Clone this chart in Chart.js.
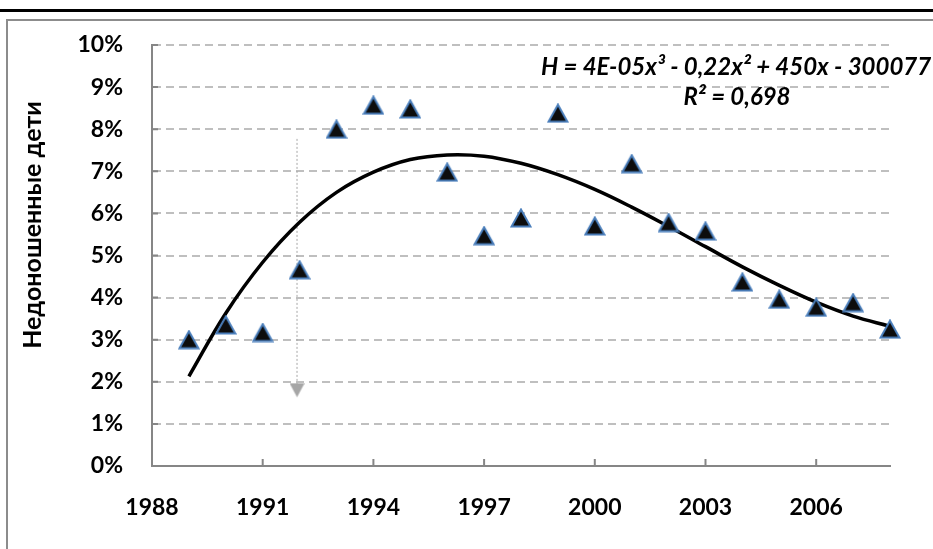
<!DOCTYPE html>
<html>
<head>
<meta charset="utf-8">
<script src="https://cdn.jsdelivr.net/npm/chart.js@4.4.0/dist/chart.umd.min.js"></script>
<style>
  body { margin: 0; background: #fff; }
  canvas { display: block; }
</style>
</head>
<body>
<canvas id="graph" width="933" height="549"></canvas>
<script>
// values (percent)
const years = [1989, 1990, 1991, 1992, 1993, 1994, 1995, 1996, 1997, 1998,
  1999, 2000, 2001, 2002, 2003, 2004, 2005, 2006, 2007, 2008];
const premature = [3.0, 3.35, 3.17, 4.66, 8.0, 8.57, 8.48, 6.98, 5.47, 5.89,
  8.38, 5.7, 7.18, 5.78, 5.58, 4.37, 3.96, 3.77, 3.88, 3.25];
const trendValues = [2.13, 3.63, 4.84, 5.79, 6.5, 6.98, 7.28, 7.39, 7.36, 7.19,
  6.92, 6.57, 6.15, 5.69, 5.21, 4.73, 4.29, 3.89, 3.56, 3.32];
const arrowX = [1991.93, 1991.93];
const arrowY = [7.77, 1.8];
const xTicks = [1988, 1991, 1994, 1997, 2000, 2003, 2006];
const axisTitle = "Недоношенные дети";
const equation = "H = 4E-05x³ - 0,22x² + 450x - 300077";
const rSquared = "R² = 0,698";

const FONT = 'Lato, "Open Sans", sans-serif';
const axisGrey = "#868686";

function triangleMarker() {
  const c = document.createElement("canvas");
  c.width = 22;
  c.height = 20;
  const g = c.getContext("2d");
  g.beginPath();
  g.moveTo(11, 1.5);
  g.lineTo(20.5, 18.5);
  g.lineTo(1.5, 18.5);
  g.closePath();
  g.fillStyle = "#0d0d0d";
  g.fill();
  g.lineWidth = 2;
  g.strokeStyle = "#4a7ebb";
  g.stroke();
  return c;
}

function arrowHead() {
  const c = document.createElement("canvas");
  c.width = 15;
  c.height = 15;
  const g = c.getContext("2d");
  g.beginPath();
  g.moveTo(0, 0.5);
  g.lineTo(15, 0.5);
  g.lineTo(7.5, 14.5);
  g.closePath();
  g.fillStyle = "#a6a6a6";
  g.fill();
  return c;
}

const frame = {
  id: "frame",
  beforeDraw(chart) {
    const ctx = chart.ctx;
    ctx.save();
    ctx.fillStyle = "#fff";
    ctx.fillRect(0, 0, chart.width, chart.height);
    ctx.fillStyle = "#000";
    ctx.fillRect(0, 9, chart.width, 3);
    ctx.strokeStyle = "#8c8c8c";
    ctx.lineWidth = 2;
    ctx.beginPath();
    ctx.moveTo(7, chart.height);
    ctx.lineTo(7, 20);
    ctx.lineTo(chart.width, 20);
    ctx.stroke();
    ctx.restore();
  },
};

// excel style tick marks pointing into the plot
const innerTicks = {
  id: "innerTicks",
  afterDraw(chart) {
    const { ctx, chartArea, scales } = chart;
    ctx.save();
    ctx.strokeStyle = axisGrey;
    ctx.lineWidth = 2;
    ctx.beginPath();
    scales.y.ticks.forEach((t) => {
      const py = scales.y.getPixelForValue(t.value);
      ctx.moveTo(chartArea.left, py);
      ctx.lineTo(chartArea.left + 6, py);
    });
    scales.x.ticks.forEach((t) => {
      const px = scales.x.getPixelForValue(t.value);
      ctx.moveTo(px, chartArea.bottom);
      ctx.lineTo(px, chartArea.bottom - 7);
    });
    ctx.stroke();
    ctx.restore();
  },
};

const labels = {
  id: "labels",
  afterDraw(chart) {
    const ctx = chart.ctx;
    ctx.save();
    ctx.fillStyle = "#000";
    ctx.font = "bold 25px " + FONT;
    ctx.translate(33, 225);
    ctx.rotate(-Math.PI / 2);
    ctx.textAlign = "center";
    ctx.textBaseline = "middle";
    ctx.fillText(axisTitle, 0, 0);
    ctx.restore();

    ctx.save();
    ctx.fillStyle = "#000";
    ctx.font = "italic bold 24px " + FONT;
    ctx.textBaseline = "alphabetic";
    ctx.textAlign = "left";
    ctx.fillText(equation, 541, 75);
    ctx.textAlign = "center";
    ctx.fillText(rSquared, 737, 105);
    ctx.restore();
  },
};

const points = years.map((yr, i) => ({ x: yr, y: premature[i] }));
const trend = years.map((yr, i) => ({ x: yr, y: trendValues[i] }));
const arrow = arrowX.map((v, i) => ({ x: v, y: arrowY[i] }));

const tickFont = { family: FONT, size: 23, weight: "bold" };

const config = {
  type: "scatter",
  data: {
    datasets: [
      {
        label: "premature",
        data: points,
        pointStyle: triangleMarker(),
        pointRadius: 10,
        pointHoverRadius: 10,
        clip: false,
        order: 0,
      },
      {
        label: "trend",
        data: trend,
        showLine: true,
        borderColor: "#000",
        borderWidth: 3.5,
        tension: 0.4,
        pointRadius: 0,
        order: 1,
      },
      {
        label: "arrow",
        data: arrow,
        showLine: true,
        borderColor: "#a6a6a6",
        borderWidth: 1,
        borderDash: [2, 2],
        pointStyle: [false, arrowHead()],
        pointRadius: [0, 8],
        order: 2,
      },
    ],
  },
  options: {
    responsive: false,
    animation: false,
    events: [],
    layout: { padding: { left: 0, right: 43, top: 45, bottom: 0 } },
    plugins: {
      legend: { display: false },
      tooltip: { enabled: false },
    },
    scales: {
      x: {
        type: "linear",
        min: 1988,
        max: 2008,
        afterBuildTicks: (scale) => {
          scale.ticks = xTicks.map((v) => ({ value: v }));
        },
        afterFit: (scale) => {
          scale.height = 83;
        },
        grid: { display: false, drawTicks: false },
        border: { display: true, color: axisGrey, width: 2 },
        ticks: {
          padding: 28,
          color: "#000",
          maxRotation: 0,
          font: tickFont,
          callback: (v) => String(v),
        },
      },
      y: {
        min: 0,
        max: 10,
        afterFit: (scale) => {
          scale.width = 152;
        },
        grid: { color: "#bfbfbf", lineWidth: 2, drawTicks: false },
        border: { display: true, color: axisGrey, width: 2, dash: [8, 5] },
        ticks: {
          stepSize: 1,
          padding: 29,
          color: "#000",
          font: tickFont,
          callback: (v) => v + "%",
        },
      },
    },
  },
  plugins: [frame, innerTicks, labels],
};

new Chart(document.getElementById("graph"), config);
</script>
</body>
</html>
